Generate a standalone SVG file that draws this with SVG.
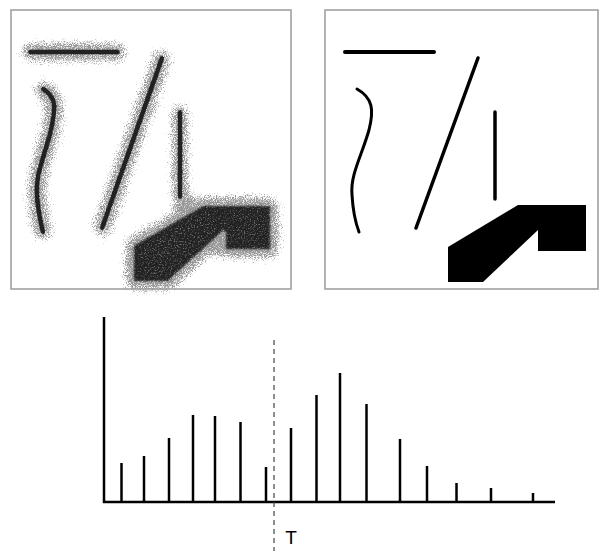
<svg xmlns="http://www.w3.org/2000/svg" width="600" height="551" viewBox="0 0 600 551">
<style>
.frame{fill:#fff;stroke:#9a9a9a;stroke-width:1.5}
.ln{fill:none;stroke:#000;stroke-linecap:round}
.halo{fill:none;stroke:#000;stroke-linecap:round;stroke-linejoin:round}
.core{fill:none;stroke:#000;stroke-linecap:round}
.bar{stroke:#000;stroke-width:2.5}
.axis{stroke:#000;stroke-width:2.5;fill:none}
.thr{stroke:#444;stroke-width:1.2;stroke-dasharray:5 4}
.lbl{font-family:"Liberation Sans",Arial,sans-serif;font-size:19px;fill:#000}
</style>
<defs>
<filter id="halo" x="-30%" y="-30%" width="160%" height="160%" color-interpolation-filters="sRGB">
<feGaussianBlur in="SourceAlpha" stdDeviation="6.5" result="b"/>
<feTurbulence type="fractalNoise" baseFrequency="1.1" numOctaves="2" seed="5" result="n"/>
<feColorMatrix in="n" type="matrix" values="0 0 0 0 0  0 0 0 0 0  0 0 0 0 0  1.5 0 0 0 0" result="na"/>
<feComposite in="b" in2="na" operator="arithmetic" k1="0" k2="1.2" k3="-1" k4="0" result="c"/>
<feComponentTransfer in="c" result="t"><feFuncA type="linear" slope="2.6" intercept="0"/></feComponentTransfer>
<feFlood flood-color="#989898"/>
<feComposite in2="t" operator="in"/>
</filter>
<filter id="grain" x="-30%" y="-30%" width="160%" height="160%" color-interpolation-filters="sRGB">
<feGaussianBlur in="SourceAlpha" stdDeviation="1.2" result="b"/>
<feTurbulence type="fractalNoise" baseFrequency="0.8" numOctaves="2" seed="9" result="n"/>
<feColorMatrix in="n" type="matrix" values="0 0 0 0 0  0 0 0 0 0  0 0 0 0 0  0.9 0 0 0 0" result="na"/>
<feComposite in="b" in2="na" operator="arithmetic" k1="0" k2="1.9" k3="-1" k4="0" result="c"/>
<feComponentTransfer in="c" result="t"><feFuncA type="linear" slope="1.5" intercept="0"/></feComponentTransfer>
<feFlood flood-color="#222"/>
<feComposite in2="t" operator="in"/>
</filter>
<filter id="fillgrain" x="-10%" y="-10%" width="120%" height="120%" color-interpolation-filters="sRGB">
<feGaussianBlur in="SourceAlpha" stdDeviation="1.5" result="b"/>
<feTurbulence type="fractalNoise" baseFrequency="0.7" numOctaves="2" seed="2" result="n"/>
<feColorMatrix in="n" type="matrix" values="0 0 0 0 0  0 0 0 0 0  0 0 0 0 0  1.3 0 0 0 0" result="na"/>
<feComposite in="b" in2="na" operator="arithmetic" k1="0" k2="1.4" k3="-1" k4="0" result="c"/>
<feComponentTransfer in="c" result="t"><feFuncA type="linear" slope="1.1" intercept="0.2"/></feComponentTransfer>
<feComposite in="t" in2="b" operator="in" result="t2"/>
<feFlood flood-color="#222"/>
<feComposite in2="t2" operator="in"/>
</filter>
</defs>
<g id="panel-noisy">
<rect class="frame" x="11" y="10" width="280" height="279"/>
<g filter="url(#halo)">
<path class="halo" stroke-width="25" d="M30,52 L118,52"/>
<path class="halo" stroke-width="25" d="M43,89 C58,98 55,110 51,130 C45,155 35,175 37,195 C38,212 41,224 43,232"/>
<path class="halo" stroke-width="25" d="M162,58 L102,228"/>
<path class="halo" stroke-width="23" d="M180,112 L180,197"/>
<polygon class="halo" fill="#000" stroke-width="23" points="133,245 203,205 271,205 271,250 225,250 225,230 168,282 133,282"/>
</g>
<g filter="url(#grain)">
<path class="core" stroke-width="4" d="M30,52 L118,52"/>
<path class="core" stroke-width="4" d="M43,89 C58,98 55,110 51,130 C45,155 35,175 37,195 C38,212 41,224 43,232"/>
<path class="core" stroke-width="4" d="M162,58 L102,228"/>
<path class="core" stroke-width="4" d="M180,112 L180,197"/>
</g>
<polygon filter="url(#fillgrain)" fill="#000" points="133,245 203,205 271,205 271,250 225,250 225,230 168,282 133,282"/>
</g>
<g id="panel-clean">
<rect class="frame" x="325" y="10" width="273" height="279"/>
<path class="ln" stroke-width="4" d="M345,52 L434,52"/>
<path class="ln" stroke-width="3" d="M357,89 C373,98 374,110 369,130 C362,155 350,175 352,195 C353,212 356,224 359,232"/>
<path class="ln" stroke-width="3.5" d="M478,58 L416,228"/>
<path class="ln" stroke-width="3.5" d="M495,112 L495,199"/>
<polygon id="blob" fill="#000" points="448,247 518,205 586,205 586,251 538,251 538,230 483,282 448,282"/>
</g>
<g id="histogram">
<path class="axis" d="M104,317 L104,502 L555,502"/>
<g id="bars">
<line class="bar" x1="121.5" y1="502" x2="121.5" y2="463"/>
<line class="bar" x1="144" y1="502" x2="144" y2="456"/>
<line class="bar" x1="169" y1="502" x2="169" y2="438"/>
<line class="bar" x1="193" y1="502" x2="193" y2="415"/>
<line class="bar" x1="215" y1="502" x2="215" y2="416"/>
<line class="bar" x1="240.5" y1="502" x2="240.5" y2="422"/>
<line class="bar" x1="266" y1="502" x2="266" y2="467"/>
<line class="bar" x1="291" y1="502" x2="291" y2="428"/>
<line class="bar" x1="316.5" y1="502" x2="316.5" y2="395"/>
<line class="bar" x1="340" y1="502" x2="340" y2="373"/>
<line class="bar" x1="366.5" y1="502" x2="366.5" y2="404"/>
<line class="bar" x1="400" y1="502" x2="400" y2="439"/>
<line class="bar" x1="427" y1="502" x2="427" y2="466"/>
<line class="bar" x1="456.5" y1="502" x2="456.5" y2="483"/>
<line class="bar" x1="491" y1="502" x2="491" y2="488"/>
<line class="bar" x1="533" y1="502" x2="533" y2="493"/>
</g>
<line id="threshold" class="thr" x1="274" y1="340" x2="274" y2="551"/>
<text class="lbl" x="291" y="544" text-anchor="middle">T</text>
</g>
</svg>
